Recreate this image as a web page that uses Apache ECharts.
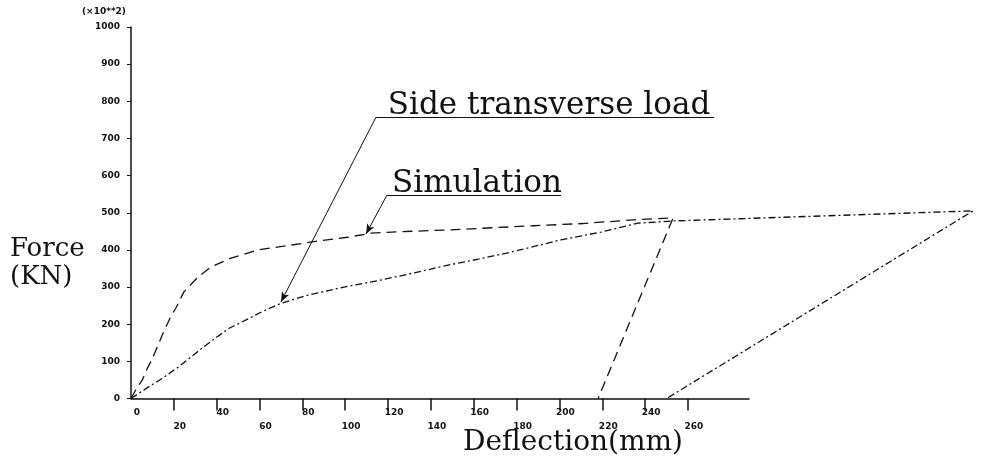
<!DOCTYPE html>
<html><head><meta charset="utf-8">
<script src="https://cdn.jsdelivr.net/npm/echarts@6/dist/echarts.min.js"></script>
<style>html,body{margin:0;padding:0;background:#fff}#c{width:990px;height:461px}</style>
</head><body><div id="c"></div>
<script>
// Simulation curve (loading then unloading), deflection mm / force (x10^2 KN)
const simX = [0, 2.2, 5.3, 7.6, 9.7, 13, 14.6, 18.5, 20.9, 24.7, 31.3, 37.3, 46.7, 59.3, 74.7, 87.3, 101, 112, 126, 149, 163, 188, 211, 237, 253, 218];
const simY = [0, 23, 50, 81, 104, 149, 171, 220, 243, 287, 327, 354, 378, 400, 413, 424, 434, 445, 449, 454, 458, 465, 471, 482, 486, 0];
// Side transverse load curve
const sideX = [0, 8.4, 14.6, 22.4, 30.2, 38, 45.8, 53.5, 61.3, 69.9, 83, 99.4, 116.7, 132, 148, 162, 177.4, 200.7, 219.4, 236.7, 253.5, 393, 250];
const sideY = [0, 32, 54, 86, 122, 157, 189, 211, 234, 256, 279, 300, 319, 338, 359, 375, 394, 427, 448, 472, 478, 505, 0];
// tick labels
const xTickLabels = [0, 20, 40, 60, 80, 100, 120, 140, 160, 180, 200, 220, 240, 260];
const xTickMarks = [20, 40, 60, 80, 100, 120, 140, 160, 180, 200, 220, 240, 260];
const yTickLabels = [0, 100, 200, 300, 400, 500, 600, 700, 800, 900, 1000];
// annotation anchors (data coordinates)
const sideAnno = {tip: [70, 260], elbow: [114.4, 757.7], end: [272.2, 757.7]};
const simAnno = {tip: [109.7, 442.8], elbow: [119.5, 547.8], end: [200.7, 547.8]};

const INK = '#111';
const pairs = (xs, ys) => xs.map((x, i) => [x, ys[i]]);
const annoLines = a => [
  [{coord: a.elbow, symbol: 'none'}, {coord: a.tip, symbol: 'arrow', symbolSize: [6, 10]}],
  [{coord: a.elbow, symbol: 'none'}, {coord: a.end, symbol: 'none'}]
];

const chart = echarts.init(document.getElementById('c'), null, {renderer: 'canvas'});
const GH = 371.5;
chart.setOption({
  animation: false,
  backgroundColor: '#fff',
  grid: [
    {left: 131, top: 27, width: 857, height: GH},
    {left: 131, top: 27, width: 618, height: GH}
  ],
  xAxis: [
    {type: 'value', gridIndex: 0, min: 0, max: 400, show: false},
    {type: 'value', gridIndex: 1, min: 0, max: 288.5, interval: 20,
      axisLine: {show: true, onZero: false, lineStyle: {color: INK, width: 1.5}},
      axisTick: {show: true, length: 12, customValues: xTickMarks, lineStyle: {color: INK, width: 1.5}},
      splitLine: {show: false},
      axisLabel: {margin: 10, customValues: xTickLabels, color: INK,
        formatter: v => ((v / 20) % 2 === 0 ? '{a|' + v + '}' : '{b|' + v + '}'),
        rich: {
          a: {fontSize: 9, fontWeight: 'bold', fontFamily: 'DejaVu Sans', color: INK, padding: [0, 0, 0, 12]},
          b: {fontSize: 9, fontWeight: 'bold', fontFamily: 'DejaVu Sans', color: INK, padding: [14, 0, 0, 12]}
        }}
    }
  ],
  yAxis: [
    {type: 'value', gridIndex: 0, min: 0, max: 1000, interval: 100,
      axisLine: {show: true, lineStyle: {color: INK, width: 1.5}},
      axisTick: {show: true, length: 4, lineStyle: {color: INK}},
      splitLine: {show: false},
      axisLabel: {margin: 11, fontSize: 9, fontWeight: 'bold', fontFamily: 'DejaVu Sans', color: INK,
        customValues: yTickLabels, formatter: v => String(v)}
    },
    {type: 'value', gridIndex: 1, min: 0, max: 1000, show: false}
  ],
  series: [
    {name: 'Simulation', type: 'line', xAxisIndex: 0, yAxisIndex: 0, showSymbol: false, symbol: 'none',
      data: pairs(simX, simY),
      lineStyle: {color: INK, width: 1.3, type: [10, 6]},
      markLine: {silent: true, symbol: ['none', 'none'], label: {show: false},
        lineStyle: {color: INK, width: 1, type: 'solid'}, data: annoLines(simAnno)}
    },
    {name: 'Side transverse load', type: 'line', xAxisIndex: 0, yAxisIndex: 0, showSymbol: false, symbol: 'none',
      data: pairs(sideX, sideY),
      lineStyle: {color: INK, width: 1.3, type: [7, 3, 2, 3]},
      markLine: {silent: true, symbol: ['none', 'none'], label: {show: false},
        lineStyle: {color: INK, width: 1, type: 'solid'}, data: annoLines(sideAnno)}
    }
  ],
  graphic: [
    {type: 'text', left: 82, top: 7, style: {text: '(×10**2)', font: 'bold 9px "DejaVu Sans"', fill: INK}},
    {type: 'text', x: 10, y: 249, style: {text: 'Force', font: '26px "DejaVu Serif"', fill: INK, verticalAlign: 'middle'}},
    {type: 'text', x: 10, y: 277, style: {text: '(KN)', font: '26px "DejaVu Serif"', fill: INK, verticalAlign: 'middle'}},
    {type: 'text', x: 573, y: 443, style: {text: 'Deflection(mm)', font: '28px "DejaVu Serif"', fill: INK, align: 'center', verticalAlign: 'middle'}},
    {type: 'text', x: 549, y: 106, style: {text: 'Side transverse load', font: '31px "DejaVu Serif"', fill: INK, align: 'center', verticalAlign: 'middle'}},
    {type: 'text', x: 477, y: 184, style: {text: 'Simulation', font: '31px "DejaVu Serif"', fill: INK, align: 'center', verticalAlign: 'middle'}}
  ]
});
</script></body></html>
